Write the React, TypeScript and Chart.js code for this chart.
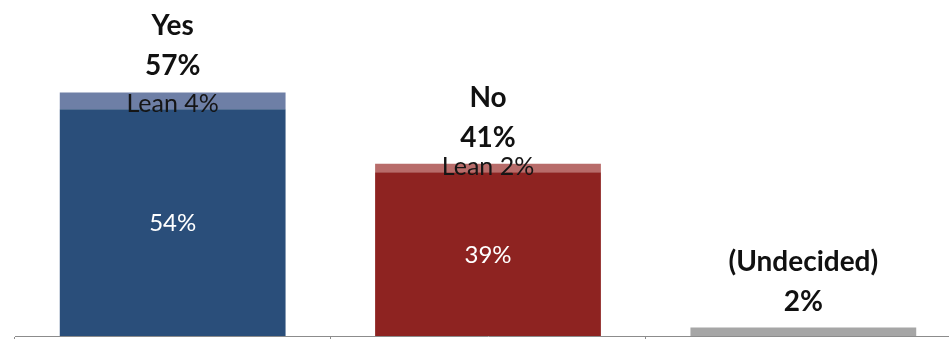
import React, { useEffect, useRef } from "react";
import { Chart, registerables } from "chart.js";

Chart.register(...registerables);

const categories = ["Yes", "No", "(Undecided)"];
const mainValues = [54, 39, 2];
const leanValues = [4, 2, 0];
const totalLabels = ["57%", "41%", "2%"];
const mainLabels = ["54%", "39%", ""];
const leanLabels = ["Lean 4%", "Lean 2%", ""];

const mainColors = ["#2A4E7A", "#8E2321", "#A6A6A6"];
const leanColors = ["#6E7FA6", "#B86C6A", "rgba(0,0,0,0)"];

const FONT = "Lato, 'Open Sans', sans-serif";

const labelPlugin = {
  id: "labelPlugin",
  afterDatasetsDraw(chart: any) {
    const ctx = chart.ctx;
    const mainMeta = chart.getDatasetMeta(0);
    const leanMeta = chart.getDatasetMeta(1);
    ctx.save();
    ctx.textAlign = "center";
    categories.forEach((name, i) => {
      const mainBar = mainMeta.data[i];
      const leanBar = leanMeta.data[i];
      const x = mainBar.x;
      const top = leanValues[i] > 0 ? leanBar.y : mainBar.y;
      // category name and total
      ctx.fillStyle = "#111111";
      ctx.font = `bold 28px ${FONT}`;
      ctx.textBaseline = "middle";
      ctx.fillText(name, x, top - 66);
      ctx.fillText(totalLabels[i], x, top - 26);
      // lean label
      if (leanLabels[i]) {
        ctx.font = `25px ${FONT}`;
        ctx.fillStyle = "#151515";
        ctx.textBaseline = "alphabetic";
        ctx.fillText(leanLabels[i], x, mainBar.y + 3);
      }
      // main segment label
      if (mainLabels[i]) {
        ctx.font = `24px ${FONT}`;
        ctx.fillStyle = "#FFFFFF";
        ctx.textBaseline = "middle";
        ctx.fillText(mainLabels[i], x, (mainBar.y + mainBar.base) / 2 + 1);
      }
    });
    ctx.restore();
  },
};

export default function App() {
  const canvasRef = useRef<HTMLCanvasElement | null>(null);

  useEffect(() => {
    if (!canvasRef.current) return;
    const chart = new Chart(canvasRef.current, {
      type: "bar",
      data: {
        labels: categories,
        datasets: [
          {
            label: "Main",
            data: mainValues,
            backgroundColor: mainColors,
            borderWidth: 0,
            barPercentage: 0.716,
            categoryPercentage: 1,
          },
          {
            label: "Lean",
            data: leanValues,
            backgroundColor: leanColors,
            borderWidth: 0,
            barPercentage: 0.716,
            categoryPercentage: 1,
          },
        ],
      },
      options: {
        animation: false,
        responsive: true,
        maintainAspectRatio: false,
        layout: { padding: { left: 15, right: 1, top: 0, bottom: 0 } },
        plugins: {
          legend: { display: false },
          tooltip: { enabled: false },
        },
        scales: {
          x: {
            stacked: true,
            ticks: { display: false },
            grid: {
              offset: true,
              drawOnChartArea: false,
              drawTicks: true,
              tickLength: 3,
              color: "#8C8C8C",
            },
            border: { display: true, color: "#8C8C8C", width: 1 },
          },
          y: {
            stacked: true,
            display: false,
            min: 0,
            max: 80,
          },
        },
      },
      plugins: [labelPlugin],
    });
    return () => chart.destroy();
  }, []);

  return (
    <div
      style={{
        position: "fixed",
        left: 0,
        top: 0,
        width: 949,
        height: 339,
        overflow: "hidden",
        background: "#FFFFFF",
      }}
    >
      <div style={{ position: "relative", width: 962, height: 339 }}>
        <canvas ref={canvasRef} />
      </div>
    </div>
  );
}
